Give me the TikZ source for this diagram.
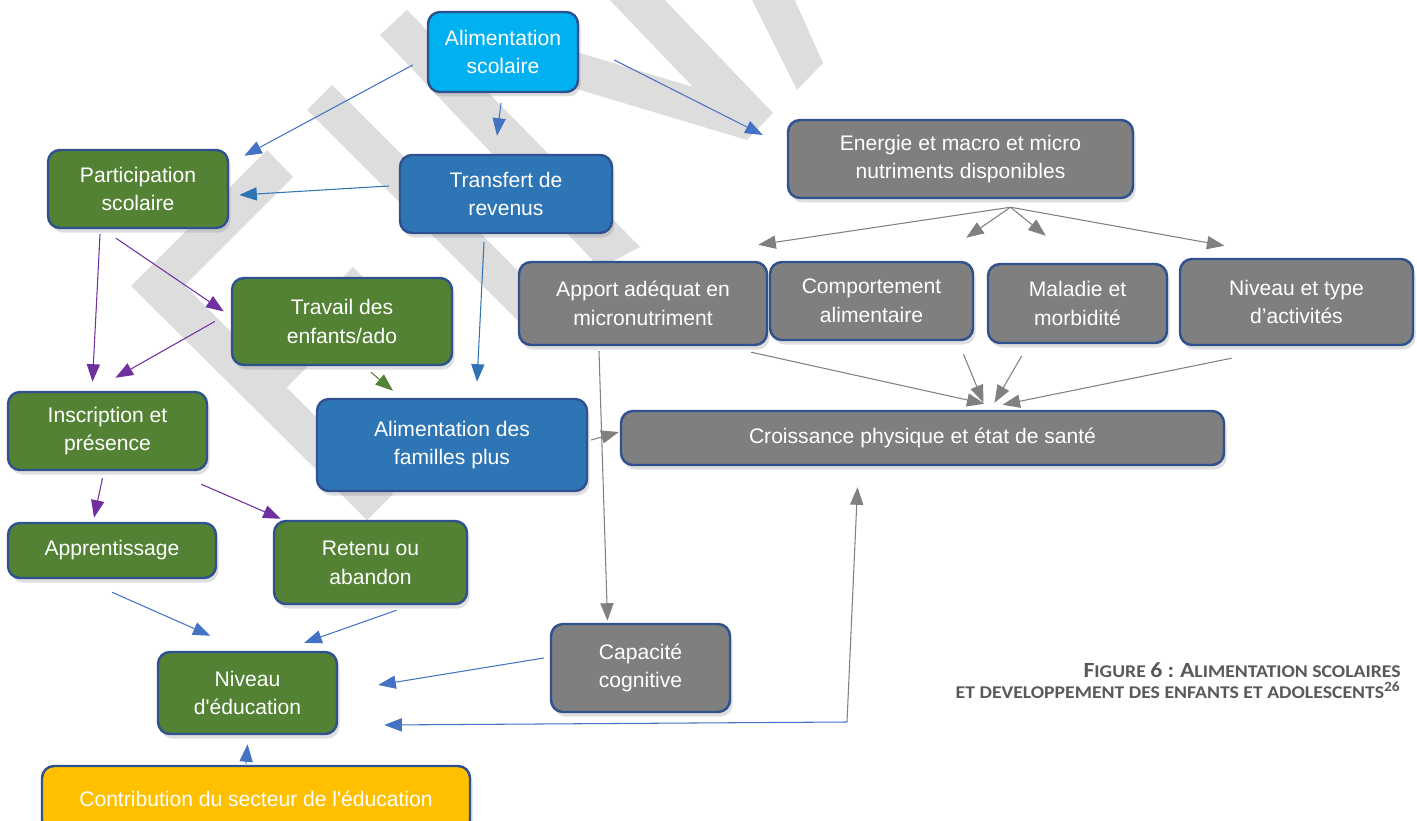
\documentclass[tikz,border=0pt]{standalone}
\usepackage{fontspec}
\setmainfont{Liberation Sans}
\newfontfamily\capfont{Carlito}[FakeStretch=1.1]
\usetikzlibrary{arrows.meta,shadows}

\definecolor{cyanbox}{HTML}{00B0F0}
\definecolor{bluebox}{HTML}{2E75B6}
\definecolor{greenbox}{HTML}{548235}
\definecolor{graybox}{HTML}{7F7F7F}
\definecolor{yellowbox}{HTML}{FFC000}
\definecolor{boxedge}{HTML}{2F528F}
\definecolor{arrblue}{HTML}{4472C4}
\definecolor{arrpurple}{HTML}{7030A0}
\definecolor{arrgray}{HTML}{808080}
\definecolor{wmgray}{HTML}{DDDDDD}
\definecolor{captext}{HTML}{595959}

% big first letter, rest in small capitals
\newcommand{\capword}[2]{{\fontsize{12.3}{15.4}\selectfont #1}{\fontsize{10.2}{15.4}\selectfont #2}}

\begin{document}
\begin{tikzpicture}[x=0.2mm, y=-0.2mm,
    box/.style={draw=boxedge, line width=1.4pt, rounded corners=2.4mm,
        text=white, align=center, inner sep=0pt,
        font=\fontsize{12}{16.4}\selectfont,
        drop shadow={shadow xshift=0.5mm, shadow yshift=-0.9mm, opacity=0.25}},
    sz/.style 2 args={minimum width=#1*0.2mm, minimum height=#2*0.2mm},
    link/.style={line width=0.6pt, -{Triangle[length=10pt,width=7.5pt]}},
    wm/.style={fill=wmgray}]
    \useasboundingbox (0,0) rectangle (1417,821);

    % Watermark bands
    \fill[wm] (380,35) -- (407,10) -- (640,247) -- (600,268) -- cycle;
    \fill[wm] (307,110) -- (332,85) -- (552,305) -- (527,330) -- cycle;
    \fill[wm] (267,150) -- (131,286) -- (367,520) -- (393,494) -- (184.5,285.5) -- (293,177) -- cycle;
    \fill[wm] (353,267) -- (380,294) -- (286.5,387.5) -- (259.5,360.5) -- cycle;
    \fill[wm] (606,-4) -- (661,-4) -- (773,113) -- (747,140) -- (480,60) -- (480,23) -- (693,87) -- cycle;
    \fill[wm] (750,-4) -- (793,-4) -- (823,63) -- (797,90) -- cycle;

    % Education side
    \node[box, fill=cyanbox, sz={150}{80}] (alimsco) at (503,52) {Alimentation\\scolaire};
    \node[box, fill=greenbox, sz={180}{78}] (partsco) at (138,189) {Participation\\scolaire};
    \node[box, fill=bluebox, sz={212}{78}] (transf) at (506,194) {Transfert de\\revenus};
    \node[box, fill=greenbox, sz={220}{87}] (travail) at (342,321.5) {Travail des\\enfants/ado};
    \node[box, fill=greenbox, sz={199}{78}] (inscr) at (107.5,431) {Inscription et\\présence};
    \node[box, fill=bluebox, sz={270}{92}] (alimfam) at (452,445) {Alimentation des\\familles plus};
    \node[box, fill=greenbox, sz={208}{55}] (apprent) at (112,550.5) {Apprentissage};
    \node[box, fill=greenbox, sz={193}{83}] (retenu) at (370.5,562.5) {Retenu ou\\abandon};
    \node[box, fill=greenbox, sz={179}{82}] (niveduc) at (247.5,693) {Niveau\\d\textquotesingle éducation};
    \node[box, fill=yellowbox, sz={428}{66}] (contrib) at (256,799) {Contribution du secteur de l\textquotesingle éducation};

    % Health side
    \node[box, fill=graybox, sz={345}{78}] (energie) at (960.5,159) {Energie et macro et micro\\nutriments disponibles};
    \node[box, fill=graybox, sz={248}{83}] (apport) at (643,303.5) {Apport adéquat en\\micronutriment};
    \node[box, fill=graybox, sz={203}{78}] (comport) at (871.5,301) {Comportement\\alimentaire};
    \node[box, fill=graybox, sz={179}{79}] (maladie) at (1077.5,303.5) {Maladie et\\morbidité};
    \node[box, fill=graybox, sz={233}{86}] (activ) at (1296.5,302) {Niveau et type\\d’activités};
    \node[box, fill=graybox, sz={603}{54}] (croiss) at (922.5,438) {Croissance physique et état de santé};
    \node[box, fill=graybox, sz={179}{88}] (capac) at (640.5,668) {Capacité\\cognitive};

    % Caption
    \node[anchor=north east, align=right, inner sep=0pt, text=captext, font=\capfont\bfseries]
        (caption) at (1401,662)
        {\capword{F}{IGURE} \capword{6 :}{} \capword{A}{LIMENTATION SCOLAIRES}\\
         \capword{}{ET DEVELOPPEMENT DES ENFANTS ET ADOLESCENTS}\textsuperscript{\fontsize{8}{8}\selectfont 26}};

    % Links from Alimentation scolaire
    \draw[link, arrblue] ([shift={(-14,13)}]alimsco.west) -- ([shift={(15,7)}]partsco.north east);
    \draw[link, arrblue] ([shift={(-2,10)}]alimsco.south) -- ([shift={(-9,-18)}]transf.north);
    \draw[link, arrblue] ([shift={(35,8)}]alimsco.east) -- ([shift={(-24,-24)}]energie.west);
    \draw[link, bluebox] ([shift={(-10,-8)}]transf.west) -- ([shift={(10,6)}]partsco.east);
    \draw[link, bluebox] ([shift={(-22,8)}]transf.south) -- ([shift={(25,-16)}]alimfam.north);

    % School links
    \draw[link, arrpurple] ([shift={(-38,5)}]partsco.south) -- ([shift={(-15,-9)}]inscr.north);
    \draw[link, arrpurple] ([shift={(-22,9)}]partsco.south) -- ([shift={(-7,-10)}]travail.west);
    \draw[link, arrpurple] ([shift={(-16,0)}]travail.west) -- ([shift={(8,-13)}]inscr.north);
    \draw[link, greenbox] ([shift={(29,6)}]travail.south) -- ([shift={(-59,-7)}]alimfam.north);
    \draw[link, arrpurple] ([shift={(-5,7)}]inscr.south) -- ([shift={(-18,-4)}]apprent.north);
    \draw[link, arrpurple] ([shift={(-7,13)}]inscr.south east) -- ([shift={(8,-1)}]retenu.north west);
    \draw[link, arrblue] ([shift={(0,13)}]apprent.south) -- ([shift={(-37,-15)}]niveduc.north);
    \draw[link, arrblue] ([shift={(26,5)}]retenu.south) -- ([shift={(-34,-8)}]niveduc.north east);
    \draw[link, arrblue] ([shift={(-6,-10)}]capac.west) -- ([shift={(40,-8)}]niveduc.east);
    \draw[link, arrblue] ([shift={(-10,-1)}]contrib.north) -- ([shift={(0,9)}]niveduc.south);

    % Health links
    \coordinate (fan) at ([shift={(50,8)}]energie.south);
    \draw[link, arrgray] (fan) -- ([shift={(-10,-16)}]apport.north east);
    \draw[link, arrgray] (fan) -- ([shift={(-8,-23)}]comport.north east);
    \draw[link, arrgray] (fan) -- ([shift={(59,-27)}]maladie.north west);
    \draw[link, arrgray] (fan) -- ([shift={(-72,-12)}]activ.north);
    \draw[link, arrgray] ([shift={(-17,6)}]apport.south east) -- ([shift={(62,-6)}]croiss.north);
    \draw[link, arrgray] ([shift={(92,13)}]comport.south) -- ([shift={(61,-7)}]croiss.north);
    \draw[link, arrgray] ([shift={(-56,12)}]maladie.south) -- ([shift={(72,-7)}]croiss.north);
    \draw[link, arrgray] ([shift={(-65,12)}]activ.south) -- ([shift={(80,-5)}]croiss.north);
    \draw[link, arrgray] ([shift={(-44,5)}]apport.south) -- ([shift={(-33,-2)}]capac.north);
    \draw[link, arrgray] ([shift={(3,-5)}]alimfam.east) -- ([shift={(-1,-6)}]croiss.west);

    % Growth back to education
    \coordinate (bend) at (847,722);
    \draw[link, arrgray] (bend) -- ([shift={(-65,21)}]croiss.south);
    \draw[link, arrblue] (bend) -- ([shift={(46,32)}]niveduc.east);
\end{tikzpicture}
\end{document}
